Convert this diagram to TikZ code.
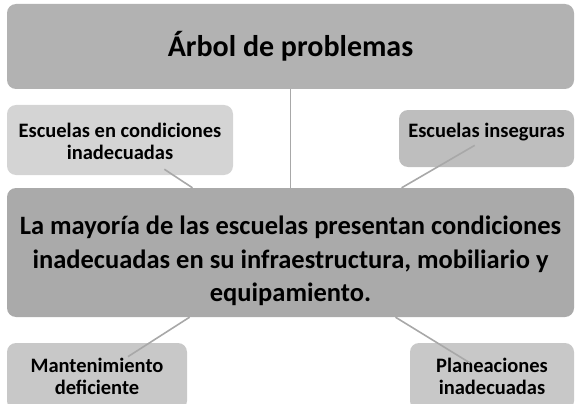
\documentclass[tikz,border=0pt]{standalone}
\usepackage{fontspec}
\setmainfont{Carlito}
\definecolor{treegray}{RGB}{178,178,178}
\definecolor{maingray}{RGB}{170,170,170}
\definecolor{cause1}{RGB}{212,212,212}
\definecolor{cause2}{RGB}{190,190,190}
\definecolor{leafgray}{RGB}{200,200,200}
\definecolor{linkgray}{RGB}{168,168,168}
\usetikzlibrary{calc}

\begin{document}
\begin{tikzpicture}[x=1pt, y=-1pt,
  box/.style={rounded corners=9pt, inner sep=2pt, align=center, font=\bfseries, text=black},
  small/.style={font=\fontsize{20.5}{22.5}\selectfont\bfseries},
  link/.style={draw=linkgray, line width=1.6pt}]
  \useasboundingbox (0,0) rectangle (576,404);

  %--- title ---
  \node[box, fill=treegray, minimum width=567pt, minimum height=85pt, font=\fontsize{30}{36}\selectfont\bfseries] (title) at (290.5,46.5) {Árbol de problemas};

  %--- upper causes ---
  \node[box, small, fill=cause1, minimum width=226pt, minimum height=70pt] (cond) at (120,140) {\raisebox{-4pt}[\height][\depth]{\begin{tabular}{@{}c@{}}Escuelas en condiciones\\inadecuadas\end{tabular}}};
  \node[box, small, fill=cause2, minimum width=175pt, minimum height=57pt] (inseg) at (486.5,138.5) {\raisebox{6pt}[\height][\depth]{Escuelas inseguras}};

  %--- lower causes ---
  \node[box, small, fill=leafgray, minimum width=180pt, minimum height=67pt] (mant) at (97,376.5) {Mantenimiento\\deficiente};
  \node[box, small, fill=leafgray, minimum width=164pt, minimum height=67pt] (plan) at (492,376.5) {Planeaciones\\inadecuadas};

  %--- central problem ---
  \node[box, fill=maingray, minimum width=567pt, minimum height=129pt, font=\fontsize{26.5}{33.5}\selectfont\bfseries] (main) at (290.5,252.5) {\raisebox{-9pt}[\height][\depth]{\begin{tabular}{@{}c@{}}La mayoría de las escuelas presentan condiciones\\inadecuadas en su infraestructura, mobiliario y\\equipamiento.\end{tabular}}};

  %--- links ---
  \draw[link] (title.south) -- (main.north);
  \draw[link] ($(cond)!0.26!(main)$) -- (main);
  \draw[link] ($(inseg)!0.06!(main)$) -- (main);
  \draw[link] (main) -- ($(mant)!0.16!(main)$);
  \draw[link] (main) -- ($(plan)!0.11!(main)$);
\end{tikzpicture}
\end{document}
